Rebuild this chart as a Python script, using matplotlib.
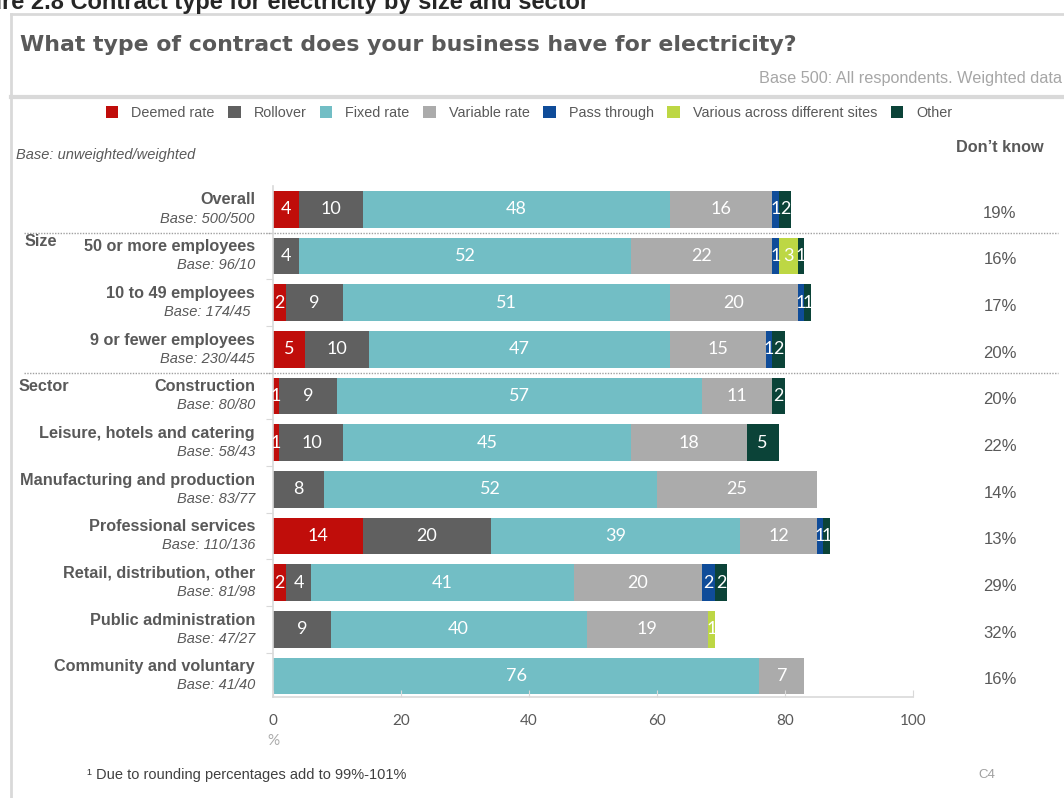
import matplotlib.pyplot as plt
from matplotlib.patches import Patch
from matplotlib.lines import Line2D
from matplotlib.transforms import blended_transform_factory

# данные: доли по типам договоров, %
rows = ["Overall", "50 or more employees", "10 to 49 employees", "9 or fewer employees",
        "Construction", "Leisure, hotels and catering", "Manufacturing and production",
        "Professional services", "Retail, distribution, other", "Public administration",
        "Community and voluntary"]
bases = ["Base: 500/500", "Base: 96/10", "Base: 174/45 ", "Base: 230/445",
         "Base: 80/80", "Base: 58/43", "Base: 83/77", "Base: 110/136",
         "Base: 81/98", "Base: 47/27", "Base: 41/40"]

series = ["Deemed rate", "Rollover", "Fixed rate", "Variable rate",
          "Pass through", "Various across different sites", "Other"]
colors = ["#C00D0A", "#606060", "#72BEC5", "#ABABAB", "#0F4C99", "#BDD744", "#0B4338"]

deemed   = [4, 0, 2, 5, 1, 1, 0, 14, 2, 0, 0]
rollover = [10, 4, 9, 10, 9, 10, 8, 20, 4, 9, 0]
fixed    = [48, 52, 51, 47, 57, 45, 52, 39, 41, 40, 76]
variable = [16, 22, 20, 15, 11, 18, 25, 12, 20, 19, 7]
passthr  = [1, 1, 1, 1, 0, 0, 0, 1, 2, 0, 0]
various  = [0, 3, 0, 0, 0, 0, 0, 0, 0, 1, 0]
other    = [2, 1, 1, 2, 2, 5, 0, 1, 2, 0, 0]

dont_know = ["19%", "16%", "17%", "20%", "20%", "22%", "14%", "13%", "29%", "32%", "16%"]
xticks = [0, 20, 40, 60, 80, 100]

grey = "#595959"
light = "#D9D9D9"
sans = "Liberation Sans"

W, H = 1064, 798
fig = plt.figure(figsize=(W / 100, H / 100), dpi=100)

def fx(px):
    return px / W

def fy(py):
    return 1 - py / H

ax = fig.add_axes([fx(273), fy(697), fx(913) - fx(273), fy(186) - fy(697)])

data = [deemed, rollover, fixed, variable, passthr, various, other]
n = len(rows)
ypos = list(range(n))
lefts = [0] * n
for vals, col in zip(data, colors):
    bars = ax.barh(ypos, vals, left=lefts, height=0.78, color=col, linewidth=0)
    for b, v, l, y in zip(bars, vals, lefts, ypos):
        if v > 0:
            t = ax.text(l + v / 2, y, str(v), ha="center", va="center",
                        color="white", fontsize=13, family="Lato")
            t.set_clip_path(b)
    lefts = [a + v for a, v in zip(lefts, vals)]

ax.set_xlim(0, 100)
ax.set_ylim(n - 1 + 0.45, -0.5)
ax.set_xticks(xticks)
ax.set_xticklabels([str(x) for x in xticks], family="Lato", fontsize=11, color=grey)
ax.tick_params(axis="x", direction="in", length=5, color=light, pad=12)
ax.set_yticks([i - 0.5 for i in range(1, n)])
ax.set_yticklabels([])
ax.tick_params(axis="y", direction="out", length=5, color=light)
for s in ["top", "right"]:
    ax.spines[s].set_visible(False)
for s in ["left", "bottom"]:
    ax.spines[s].set_color(light)
    ax.spines[s].set_linewidth(1.2)

tr = blended_transform_factory(fig.transFigure, ax.transData)

# подписи строк и баз
for i, (name, base) in enumerate(zip(rows, bases)):
    ax.text(fx(255), i - 0.2, name, transform=tr, ha="right", va="center",
            fontsize=11.7, fontweight="bold", color=grey, family=sans)
    ax.text(fx(255), i + 0.2, base, transform=tr, ha="right", va="center",
            fontsize=10.5, style="italic", color=grey, family=sans)
    ax.text(fx(1000), i + 0.08, dont_know[i], transform=tr, ha="center", va="center",
            fontsize=12, color=grey, family=sans)

ax.text(fx(25), 0.7, "Size", transform=tr, ha="left", va="center",
        fontsize=11.7, fontweight="bold", color=grey, family=sans)
ax.text(fx(19), 3.8, "Sector", transform=tr, ha="left", va="center",
        fontsize=11.7, fontweight="bold", color=grey, family=sans)

for yb in [0.5, 3.5]:
    ax.add_line(Line2D([fx(24), fx(1058)], [yb, yb], transform=tr, ls=(0, (1, 1)),
                       color="#A0A0A0", lw=1, clip_on=False))

fig.text(fx(1000), fy(147), "Don\u2019t know", ha="center", va="center",
         fontsize=11.7, fontweight="bold", color=grey, family=sans)
fig.text(fx(273), fy(741), "%", ha="center", va="center", fontsize=11,
         color="#ABABAB", family="Lato")

# заголовки
fig.text(-0.045, fy(9), "Figure 2.8 Contract type for electricity by size and sector",
         ha="left", va="baseline", fontsize=17, fontweight="bold", color="#262626",
         family=sans)
fig.text(fx(20), fy(45), "What type of contract does your business have for electricity?",
         ha="left", va="center", fontsize=15.8, fontweight="bold", color=grey,
         family="DejaVu Sans")
fig.text(fx(1062), fy(78), "Base 500: All respondents. Weighted data", ha="right",
         va="center", fontsize=11.7, color="#A6A6A6", family=sans)
fig.text(fx(16), fy(155), "Base: unweighted/weighted", ha="left", va="center",
         fontsize=10.5, style="italic", color=grey, family=sans)
fig.text(fx(87), fy(775), "\u00b9 Due to rounding percentages add to 99%-101%", ha="left",
         va="center", fontsize=10.5, color="#404040", family=sans)
fig.text(fx(987), fy(775), "C4", ha="center", va="center", fontsize=9.5,
         color="#A0A0A0", family=sans)

# рамка
fig.add_artist(Line2D([fx(11), fx(11)], [fy(14), 0], color=light, lw=2))
fig.add_artist(Line2D([fx(11), 1], [fy(14), fy(14)], color=light, lw=2))
fig.add_artist(Line2D([fx(11), 1], [fy(97), fy(97)], color=light, lw=3))

handles = [Patch(facecolor=c, edgecolor="none", label=s) for s, c in zip(series, colors)]
leg = fig.legend(handles=handles, loc="center", bbox_to_anchor=(fx(529), fy(113)),
                 ncol=7, frameon=False, handlelength=0.85, handleheight=0.95,
                 handletextpad=0.9, columnspacing=0.95,
                 prop={"family": sans, "size": 10.4})
for t in leg.get_texts():
    t.set_color(grey)

fig.savefig("out.png", dpi=100)
